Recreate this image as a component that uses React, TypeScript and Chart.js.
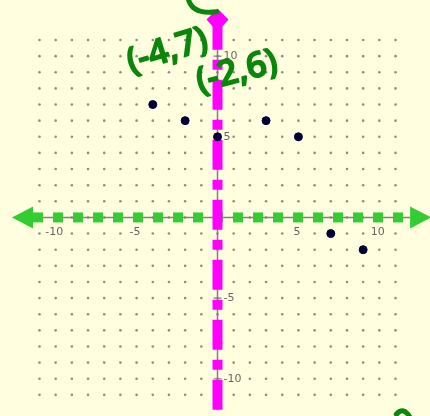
import React, { useEffect, useRef } from "react";
import { Chart, registerables } from "chart.js";

Chart.register(...registerables);

// Plotted points
const pointX = [-4, -2, 0, 3, 5, 7, 9];
const pointY = [7, 6, 5, 6, 5, -1, -2];

// Dotted grid values (integer lattice)
const gridValues = [-11, -10, -9, -8, -7, -6, -5, -4, -3, -2, -1, 0, 1, 2, 3, 4, 5, 6, 7, 8, 9, 10, 11];

// Axis tick labels
const xTickLabels = [-10, -5, 5, 10];
const yTickLabels = [-10, -5, 5, 10];

// Handwritten notes
const noteTexts = ["(-4,7)", "(-2,6)"];
const noteX = [-3.1, 1.2];
const noteY = [10.3, 9.0];
const noteAngle = [-0.3, -0.26];

// Axis extents (data units)
const xAxisFrom = -11.4;
const xAxisTo = 11.9;
const xArrowTipLeft = -12.7;
const xArrowTipRight = 13.2;
const yAxisFrom = -11.95;
const yAxisTo = 12.25;
const yArrowTip = 12.95;

// View window
const xMin = -13.44;
const xMax = 13.13;
const yMin = -12.31;
const yMax = 13.48;

const BG = "#FFFFE0";
const GREEN = "#33CC33";
const MAGENTA = "#FF00FF";
const HAND = "#0A870A";

const gridPlugin = {
  id: "graphPaper",
  beforeDatasetsDraw(chart: any) {
    const ctx = chart.ctx as CanvasRenderingContext2D;
    const xs = chart.scales.x;
    const ys = chart.scales.y;
    const px = (v: number) => xs.getPixelForValue(v);
    const py = (v: number) => ys.getPixelForValue(v);
    const x0 = px(0);
    const y0 = py(0);

    ctx.save();
    ctx.fillStyle = BG;
    ctx.fillRect(0, 0, chart.width, chart.height);

    // grid dots
    ctx.fillStyle = "#8c8c8c";
    for (const gx of gridValues) {
      for (const gy of gridValues) {
        ctx.beginPath();
        ctx.arc(px(gx), py(gy), 1.3, 0, Math.PI * 2);
        ctx.fill();
      }
    }

    // thin gray axes
    ctx.strokeStyle = "#808080";
    ctx.lineWidth = 1.5;
    ctx.beginPath();
    ctx.moveTo(px(xAxisFrom), y0);
    ctx.lineTo(px(xAxisTo), y0);
    ctx.moveTo(x0, py(yAxisTo));
    ctx.lineTo(x0, py(yAxisFrom));
    ctx.stroke();

    // tick crosses
    ctx.lineWidth = 1.2;
    ctx.beginPath();
    for (const t of xTickLabels) {
      ctx.moveTo(px(t), y0 - 4);
      ctx.lineTo(px(t), y0 + 4);
    }
    for (const t of yTickLabels) {
      ctx.moveTo(x0 - 4, py(t));
      ctx.lineTo(x0 + 4, py(t));
    }
    ctx.stroke();

    // tick labels with paper-coloured backing
    ctx.font = "11px 'DejaVu Sans'";
    ctx.textBaseline = "middle";
    ctx.textAlign = "center";
    for (const t of xTickLabels) {
      const s = String(t);
      const w = ctx.measureText(s).width;
      const cx = px(t) - 1.5;
      ctx.fillStyle = BG;
      ctx.fillRect(cx - w / 2 - 1, y0 + 9, w + 2, 12);
      ctx.fillStyle = "#666666";
      ctx.fillText(s, cx, y0 + 15);
    }
    ctx.textAlign = "left";
    for (const t of yTickLabels) {
      const s = String(t);
      const w = ctx.measureText(s).width;
      ctx.fillStyle = BG;
      ctx.fillRect(x0 + 5, py(t) - 6, w + 2, 12);
      ctx.fillStyle = "#666666";
      ctx.fillText(s, x0 + 6, py(t));
    }

    // green dashed x axis
    ctx.strokeStyle = GREEN;
    ctx.lineWidth = 10;
    ctx.lineCap = "butt";
    ctx.setLineDash([10, 10]);
    ctx.beginPath();
    ctx.moveTo(px(xAxisFrom), y0);
    ctx.lineTo(px(xAxisTo), y0);
    ctx.stroke();
    ctx.setLineDash([]);
    ctx.fillStyle = GREEN;
    ctx.beginPath();
    ctx.moveTo(px(xArrowTipLeft), y0);
    ctx.lineTo(px(xAxisFrom), y0 - 11);
    ctx.lineTo(px(xAxisFrom), y0 + 11);
    ctx.closePath();
    ctx.fill();
    ctx.beginPath();
    ctx.moveTo(px(xArrowTipRight), y0);
    ctx.lineTo(px(xAxisTo), y0 - 11);
    ctx.lineTo(px(xAxisTo), y0 + 11);
    ctx.closePath();
    ctx.fill();

    // magenta dashed y axis
    ctx.strokeStyle = MAGENTA;
    ctx.lineWidth = 10;
    ctx.setLineDash([30, 10, 10, 10]);
    ctx.beginPath();
    ctx.moveTo(x0, py(yAxisTo));
    ctx.lineTo(x0, py(yAxisFrom));
    ctx.stroke();
    ctx.setLineDash([]);
    ctx.fillStyle = MAGENTA;
    const tip = py(yArrowTip);
    ctx.beginPath();
    ctx.moveTo(x0, tip);
    ctx.lineTo(x0 + 11, tip + 11);
    ctx.lineTo(x0 + 5, tip + 18);
    ctx.lineTo(x0 - 5, tip + 18);
    ctx.lineTo(x0 - 11, tip + 11);
    ctx.closePath();
    ctx.fill();
    ctx.restore();
  },
  afterDatasetsDraw(chart: any) {
    const ctx = chart.ctx as CanvasRenderingContext2D;
    const xs = chart.scales.x;
    const ys = chart.scales.y;
    const px = (v: number) => xs.getPixelForValue(v);
    const py = (v: number) => ys.getPixelForValue(v);
    ctx.save();
    ctx.fillStyle = HAND;
    ctx.strokeStyle = HAND;
    ctx.font = "600 35px 'Open Sans'";
    ctx.textAlign = "center";
    ctx.textBaseline = "middle";
    ctx.lineWidth = 1.5;
    ctx.lineJoin = "round";
    noteTexts.forEach((t, i) => {
      ctx.save();
      ctx.translate(px(noteX[i]), py(noteY[i]));
      ctx.rotate(noteAngle[i]);
      ctx.fillText(t, 0, 0);
      ctx.strokeText(t, 0, 0);
      ctx.restore();
    });
    // scribbles
    ctx.lineWidth = 5;
    ctx.lineCap = "round";
    ctx.beginPath();
    ctx.moveTo(px(-1.82), py(13.6));
    ctx.quadraticCurveTo(px(-1.6), py(12.55), px(-0.05), py(12.75));
    ctx.stroke();
    ctx.beginPath();
    ctx.moveTo(px(11.05), py(-12.2));
    ctx.quadraticCurveTo(px(11.5), py(-11.7), px(11.9), py(-12.4));
    ctx.stroke();
    ctx.restore();
  },
};

export default function App() {
  const ref = useRef<HTMLCanvasElement | null>(null);
  useEffect(() => {
    if (!ref.current) return;
    const chart = new Chart(ref.current, {
      type: "scatter",
      data: {
        datasets: [
          {
            data: pointX.map((x, i) => ({ x, y: pointY[i] })),
            backgroundColor: "#000033",
            borderColor: "#000033",
            pointRadius: 4,
            pointHoverRadius: 4,
            showLine: false,
          },
        ],
      },
      options: {
        animation: false,
        responsive: false,
        maintainAspectRatio: false,
        layout: { padding: 0, autoPadding: false },
        plugins: { legend: { display: false }, tooltip: { enabled: false } },
        scales: {
          x: { type: "linear", min: xMin, max: xMax, display: false },
          y: { type: "linear", min: yMin, max: yMax, display: false },
        },
      },
      plugins: [gridPlugin],
    });
    return () => chart.destroy();
  }, []);
  return (
    <div style={{ position: "fixed", left: 0, top: 0, width: 430, height: 416, background: BG }}>
      <canvas ref={ref} width={430} height={416} />
    </div>
  );
}
